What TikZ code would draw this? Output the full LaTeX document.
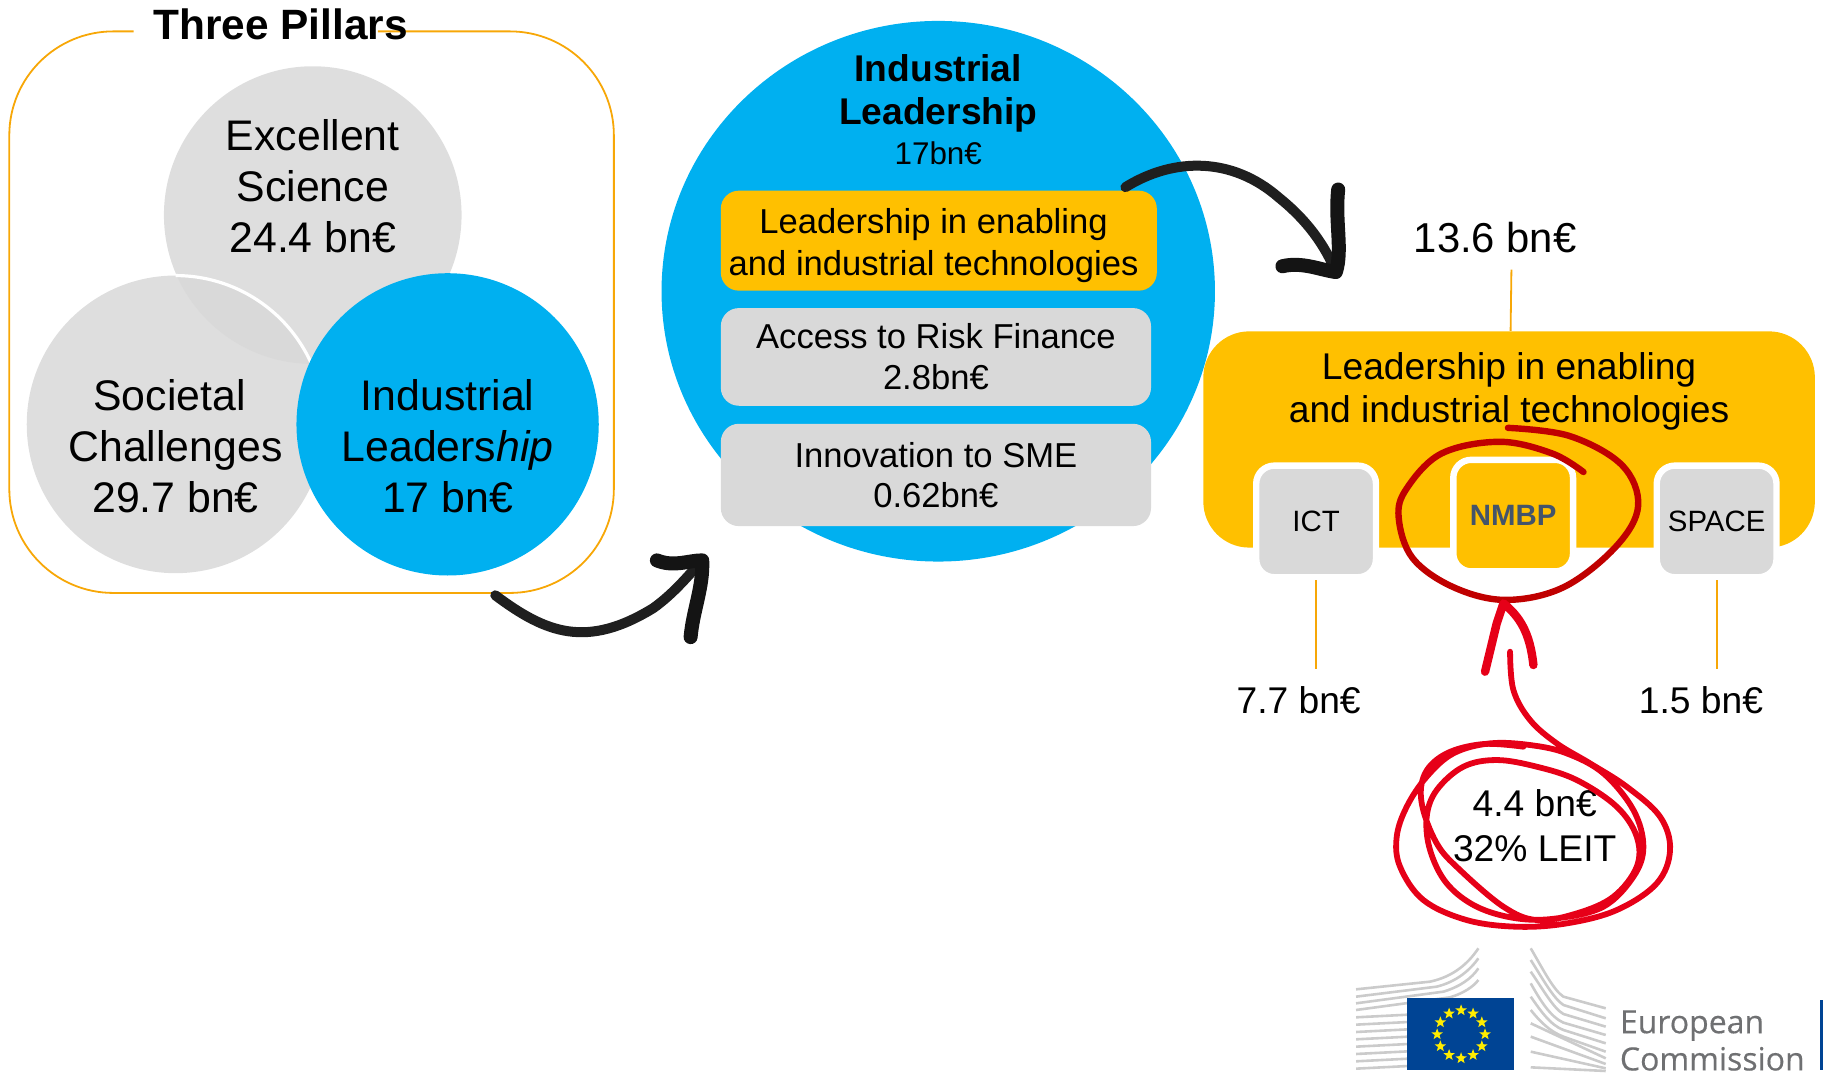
\documentclass[tikz,border=0pt]{standalone}
\usepackage{fontspec}
\setmainfont{Liberation Sans}
\newfontfamily\logofont[FakeBold=0.35]{Open Sans}
\usetikzlibrary{shapes.geometric}
\newcommand{\ux}{0.5813pt}
\newcommand{\fsize}[2]{\fontsize{#1}{#2}\selectfont}
\definecolor{pillarGray}{HTML}{DEDEDE}
\definecolor{overlapGray}{HTML}{D9D9D9}
\definecolor{boxGray}{HTML}{D9D9D9}
\definecolor{euBlue}{HTML}{00B0F0}
\definecolor{gold}{HTML}{FFC000}
\definecolor{frameOrange}{HTML}{F7A707}
\definecolor{crayonRed}{HTML}{E60018}
\definecolor{ringRed}{HTML}{C00000}
\definecolor{flagBlue}{HTML}{004494}
\definecolor{starYellow}{HTML}{FFED00}
\definecolor{logoGray}{HTML}{6F7072}
\definecolor{wingGray}{HTML}{CBCBCB}
\definecolor{nmbpText}{HTML}{44546A}
\tikzset{
    plain/.style = {inner sep=0pt, align=center},
    pillar/.style = {circle, fill=pillarGray, minimum size=256*\ux, inner sep=0pt},
    pillarText/.style = {plain, font=\fsize{21.4}{25.6}},
    listBox/.style = {rectangle, rounded corners=9pt, inner sep=0pt, align=center, font=\fsize{17.3}{20.9}},
    subBox/.style = {rectangle, rounded corners=9pt, draw=white, line width=3.2pt, inner sep=0pt,
        minimum width=103*\ux, minimum height=96*\ux, font=\fsize{14.7}{16}},
    valueText/.style = {plain, font=\fsize{18.6}{22.7}},
    valueLine/.style = {draw=frameOrange, line width=0.9pt},
    brush/.style = {black!88, line width=5pt, line cap=round, line join=round},
    brushHead/.style = {black!92, line width=7pt, line cap=round, line join=round},
    crayon/.style = {crayonRed, line width=2.9pt, line cap=round, line join=round},
    wing/.style = {wingGray, line width=1.3pt},
    eustar/.style = {star, star points=5, star point ratio=2.4, fill=starYellow, minimum size=6pt, inner sep=0pt}
}
\begin{document}
\begin{tikzpicture}[x=\ux, y=-\ux]
    \useasboundingbox (0,0) rectangle (1568,925);

    \draw[frameOrange, line width=0.9pt, rounded corners=52pt] (325,27) -- (528,27) -- (528,510) -- (8,510) -- (8,27) -- (115,27);
    \node[plain, font=\fsize{21.2}{24}\bfseries] (title) at (241.5,21) {Three Pillars};

    \node[pillar] (excellent) at (269,185) {};
    \node[pillar] (societal) at (151,365) {};
    \begin{scope}
        \clip (excellent.center) circle[radius=128*\ux];
        \fill[overlapGray] (societal.center) circle[radius=128*\ux];
    \end{scope}
    \draw[white, line width=1.6pt] (societal.center) ++(90:74.4pt) arc[start angle=90, end angle=24, radius=74.4pt];
    \node[circle, fill=euBlue, minimum size=260*\ux, inner sep=0pt] (industrial) at (385,365) {};
    \node[pillarText] (excellentText) at (269,160) {Excellent\\Science\\24.4 bn€};
    \node[pillarText] (societalText) at (151,384) {\hspace*{-6pt}Societal\\Challenges\\29.7 bn€};
    \node[pillarText] (industrialText) at (385,384) {Industrial\\Leaders\textit{hip}\\17 bn€};

    \node[ellipse, fill=euBlue, minimum width=476*\ux, minimum height=465*\ux, inner sep=0pt] (leadership) at (807,250.5) {};
    \node[plain, font=\fsize{18.6}{21.5}\bfseries] (leadershipTitle) at (807,80) {Industrial\\Leadership};
    \node[plain, font=\fsize{15.7}{18}] (leadershipValue) at (807,132) {17bn€};
    \node[listBox, fill=gold, minimum width=375*\ux, minimum height=86*\ux] (enablingItem) at (807.5,207) {};
    \node[listBox] (enablingItemText) at (803,211) {Leadership in enabling\\and industrial technologies};
    \node[listBox, fill=boxGray, minimum width=370*\ux, minimum height=84*\ux] (riskItem) at (805,307) {\raisebox{-0.6pt}{Access to Risk Finance}\\2.8bn€};
    \node[listBox, fill=boxGray, minimum width=370*\ux, minimum height=88*\ux] (smeItem) at (805,408.5) {\raisebox{-0.6pt}{Innovation to SME}\\0.62bn€};

    \node[rectangle, fill=gold, rounded corners=23pt, minimum width=526*\ux, minimum height=186*\ux, inner sep=0pt] (enabling) at (1298,378) {};
    \node[plain, font=\fsize{18.6}{21.5}] (enablingText) at (1298,337) {Leadership in enabling\\and industrial technologies};
    \node[subBox, fill=boxGray] (ict) at (1132,448.5) {\raisebox{-1.2pt}{ICT}};
    \node[subBox, fill=gold, text=nmbpText, font=\fsize{14.7}{16}\bfseries] (nmbp) at (1301.5,443.5) {\raisebox{-1.2pt}{NMBP}};
    \node[subBox, fill=boxGray] (space) at (1476.5,448.5) {\raisebox{-0.6pt}{SPACE}};

    \node[plain, font=\fsize{20.9}{24}] (total) at (1286,204) {13.6 bn€};
    \node[valueText] (ictValue) at (1117,602) {7.7 bn€};
    \node[valueText] (spaceValue) at (1463,602) {1.5 bn€};
    \node[valueText] (nmbpValue) at (1320,710) {4.4 bn€\\32\% LEIT};

    \coordinate (totalEnd) at (1300,232);
    \coordinate (ictEnd) at (1132,575);
    \coordinate (spaceEnd) at (1476.5,575);
    \draw[valueLine] (totalEnd) -- (enabling);
    \draw[valueLine] (ict) -- (ictEnd);
    \draw[valueLine] (space) -- (spaceEnd);

    \coordinate (firstStart) at (426,512);
    \coordinate (firstTip) at (604,482);
    \draw[brush] (firstStart) .. controls (470,545) and (505,558) .. (562,523) .. controls (580,510) and (592,495) .. (firstTip);
    \draw[brushHead] (565,482) .. controls (580,488) and (592,482) .. (firstTip) .. controls (605,505) and (596,525) .. (594,548);

    \coordinate (secondStart) at (968,161);
    \coordinate (secondTip) at (1149,234);
    \draw[brush] (secondStart) .. controls (1010,135) and (1060,135) .. (1100,170) .. controls (1125,190) and (1140,212) .. (secondTip);
    \draw[brushHead] (1103,229) .. controls (1120,225) and (1135,232) .. (secondTip) .. controls (1155,215) and (1148,190) .. (1151,163);

    \draw[ringRed, line width=3.2pt, line cap=round] plot[smooth, tension=0.6] coordinates {(1362,406) (1335,390) (1290,380) (1240,390) (1210,420) (1203,445) (1215,480) (1250,505) (1295,516) (1345,505) (1390,470) (1409,435) (1395,400) (1350,375) (1297,368)};

    \begin{scope}[shift={(1161.2,507.5)}, x=0.16667pt, y=-0.16667pt]
        \draw[crayon, line width=4.2pt] (405,245) -- (440,100) -- (460,40) .. controls (510,80) and (540,130) .. (550,225);
        \draw[crayon] plot[smooth, tension=0.6] coordinates {(480,185) (490,300) (540,390) (620,460) (720,520) (830,590) (930,680) (960,780) (920,880) (800,960) (650,1000) (500,1010) (350,990) (220,930) (150,830) (140,740) (170,650) (230,560) (310,490) (420,460) (540,465) (650,490) (760,550) (850,660) (880,770) (850,860) (760,950) (620,985) (500,985) (380,950) (290,880) (240,780) (230,680) (260,600) (340,530) (440,510) (560,530) (680,570) (800,650) (860,740) (860,830) (790,920) (680,970) (560,990) (460,950) (330,840) (260,760) (215,640) (225,550) (290,490) (400,462) (520,470)};
    \end{scope}

    \begin{scope}[shift={(1152.6,808.5)}, x=0.16667pt, y=-0.16667pt]
        \draw[wing] (48,148) -- (270,125) .. controls (340,110) and (385,70) .. (415,25);
        \draw[wing] (48,170) -- (290,140) .. controls (350,125) and (390,90) .. (415,55);
        \draw[wing] (48,190) -- (310,155) .. controls (360,140) and (395,115) .. (415,85);
        \draw[wing] (48,210) -- (330,172) .. controls (370,160) and (400,140) .. (415,120);
        \foreach \y in {232,254,...,386} {
            \draw[wing] (48,\y) -- (205,\y-8);
        }
        \draw[wing] (572,25) .. controls (610,90) and (640,150) .. (670,170) -- (797,205);
        \draw[wing] (572,60) .. controls (610,120) and (640,175) .. (670,195) -- (797,235);
        \draw[wing] (572,95) .. controls (610,150) and (640,205) .. (670,222) -- (797,260);
        \draw[wing] (572,130) .. controls (600,180) and (630,230) .. (670,248) -- (797,285);
        \draw[wing] (572,170) .. controls (600,210) and (630,255) .. (670,270) -- (797,310);
        \draw[wing] (572,210) .. controls (600,245) and (630,275) .. (670,290) -- (797,335);
        \draw[wing] (572,250) -- (797,355);
        \draw[wing] (572,290) -- (797,372);
        \draw[wing] (572,335) -- (797,385);
        \draw[wing] (572,382) -- (797,393);
    \end{scope}
    \node[rectangle, fill=flagBlue, minimum width=92*\ux, minimum height=61.6*\ux, inner sep=0pt] (flag) at (1256.5,889.5) {};
    \begin{scope}[shift={(1256.7,889.6)}]
        \foreach \a in {0,30,...,330} {
            \node[eustar] (star\a) at (\a:20.6) {};
        }
    \end{scope}
    \node[plain, text=logoGray, font=\fsize{16}{18.6}\logofont, align=left, anchor=west] (logoText) at (1393,895) {European\\Commission};
    \node[rectangle, fill=flagBlue, minimum width=4*\ux, minimum height=60*\ux, inner sep=0pt, anchor=west] (logoBar) at (1565,890) {};
\end{tikzpicture}
\end{document}
